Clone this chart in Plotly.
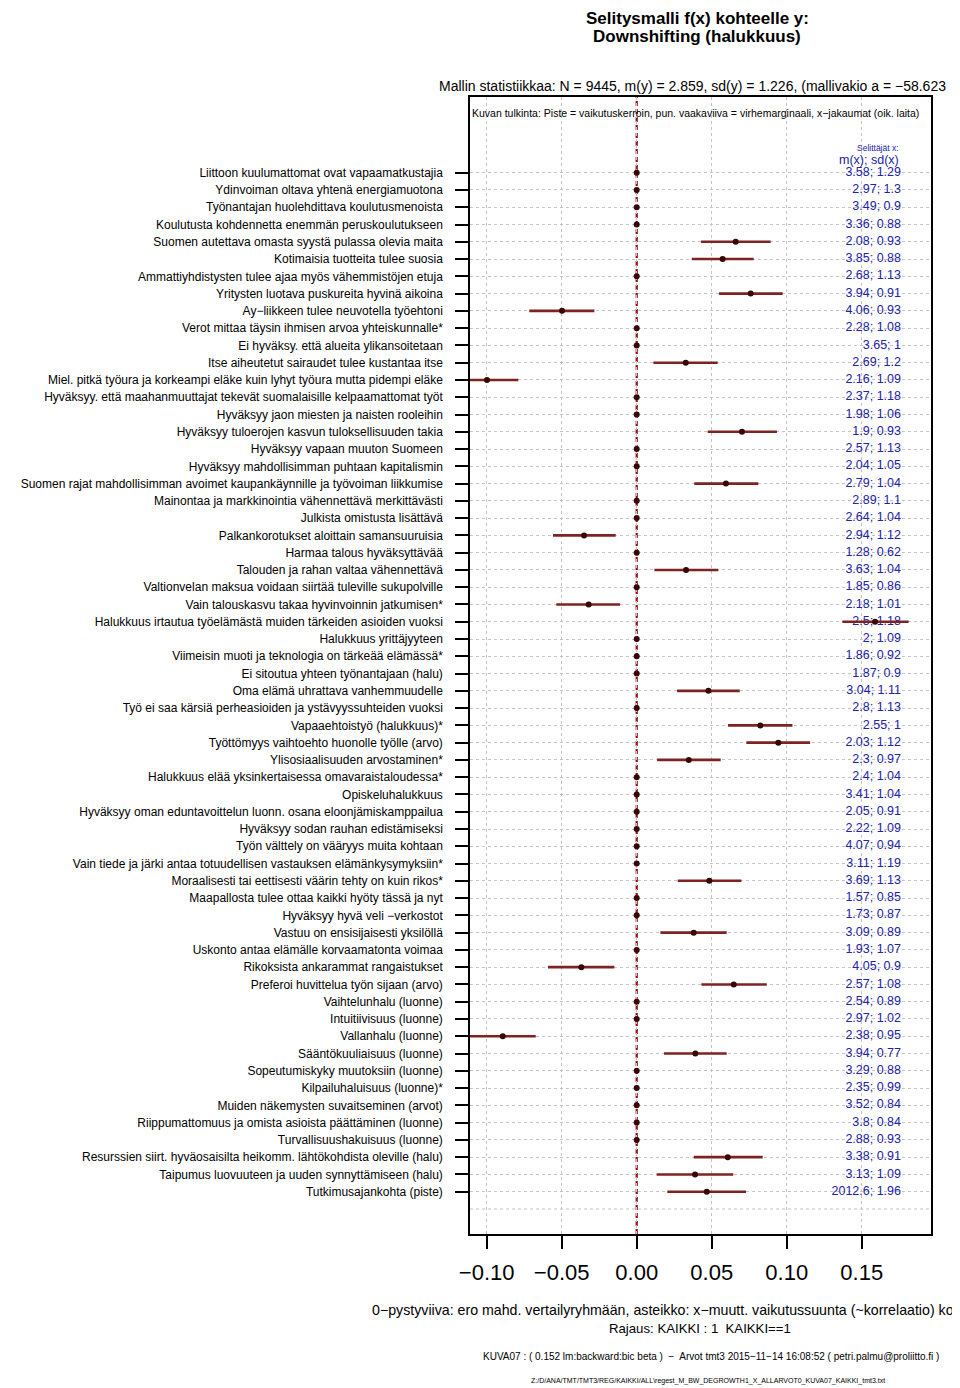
import plotly.graph_objects as go

labels = [
    "Liittoon kuulumattomat ovat vapaamatkustajia",
    "Ydinvoiman oltava yhtenä energiamuotona",
    "Työnantajan huolehdittava koulutusmenoista",
    "Koulutusta kohdennetta enemmän peruskoulutukseen",
    "Suomen autettava omasta syystä pulassa olevia maita",
    "Kotimaisia tuotteita tulee suosia",
    "Ammattiyhdistysten tulee ajaa myös vähemmistöjen etuja",
    "Yritysten luotava puskureita hyvinä aikoina",
    "Ay−liikkeen tulee neuvotella työehtoni",
    "Verot mittaa täysin ihmisen arvoa yhteiskunnalle*",
    "Ei hyväksy. että alueita ylikansoitetaan",
    "Itse aiheutetut sairaudet tulee kustantaa itse",
    "Miel. pitkä työura ja korkeampi eläke kuin lyhyt työura mutta pidempi eläke",
    "Hyväksyy. että maahanmuuttajat tekevät suomalaisille kelpaamattomat työt",
    "Hyväksyy jaon miesten ja naisten rooleihin",
    "Hyväksyy tuloerojen kasvun tuloksellisuuden takia",
    "Hyväksyy vapaan muuton Suomeen",
    "Hyväksyy mahdollisimman puhtaan kapitalismin",
    "Suomen rajat mahdollisimman avoimet kaupankäynnille ja työvoiman liikkumise",
    "Mainontaa ja markkinointia vähennettävä merkittävästi",
    "Julkista omistusta lisättävä",
    "Palkankorotukset aloittain samansuuruisia",
    "Harmaa talous hyväksyttävää",
    "Talouden ja rahan valtaa vähennettävä",
    "Valtionvelan maksua voidaan siirtää tuleville sukupolville",
    "Vain talouskasvu takaa hyvinvoinnin jatkumisen*",
    "Halukkuus irtautua työelämästä muiden tärkeiden asioiden vuoksi",
    "Halukkuus yrittäjyyteen",
    "Viimeisin muoti ja teknologia on tärkeää elämässä*",
    "Ei sitoutua yhteen työnantajaan (halu)",
    "Oma elämä uhrattava vanhemmuudelle",
    "Työ ei saa kärsiä perheasioiden ja ystävyyssuhteiden vuoksi",
    "Vapaaehtoistyö (halukkuus)*",
    "Työttömyys vaihtoehto huonolle työlle (arvo)",
    "Ylisosiaalisuuden arvostaminen*",
    "Halukkuus elää yksinkertaisessa omavaraistaloudessa*",
    "Opiskeluhalukkuus",
    "Hyväksyy oman eduntavoittelun luonn. osana eloonjämiskamppailua",
    "Hyväksyy sodan rauhan edistämiseksi",
    "Työn välttely on vääryys muita kohtaan",
    "Vain tiede ja järki antaa totuudellisen vastauksen elämänkysymyksiin*",
    "Moraalisesti tai eettisesti väärin tehty on kuin rikos*",
    "Maapallosta tulee ottaa kaikki hyöty tässä ja nyt",
    "Hyväksyy hyvä veli −verkostot",
    "Vastuu on ensisijaisesti yksilöllä",
    "Uskonto antaa elämälle korvaamatonta voimaa",
    "Rikoksista ankarammat rangaistukset",
    "Preferoi huvittelua työn sijaan (arvo)",
    "Vaihtelunhalu (luonne)",
    "Intuitiivisuus (luonne)",
    "Vallanhalu (luonne)",
    "Sääntökuuliaisuus (luonne)",
    "Sopeutumiskyky muutoksiin (luonne)",
    "Kilpailuhaluisuus (luonne)*",
    "Muiden näkemysten suvaitseminen (arvot)",
    "Riippumattomuus ja omista asioista päättäminen (luonne)",
    "Turvallisuushakuisuus (luonne)",
    "Resurssien siirt. hyväosaisilta heikomm. lähtökohdista oleville (halu)",
    "Taipumus luovuuteen ja uuden synnyttämiseen (halu)",
    "Tutkimusajankohta (piste)",
]

mx_sd = [
    "3.58; 1.29", "2.97; 1.3", "3.49; 0.9", "3.36; 0.88", "2.08; 0.93", "3.85; 0.88",
    "2.68; 1.13", "3.94; 0.91", "4.06; 0.93", "2.28; 1.08", "3.65; 1", "2.69; 1.2",
    "2.16; 1.09", "2.37; 1.18", "1.98; 1.06", "1.9; 0.93", "2.57; 1.13", "2.04; 1.05",
    "2.79; 1.04", "2.89; 1.1", "2.64; 1.04", "2.94; 1.12", "1.28; 0.62", "3.63; 1.04",
    "1.85; 0.86", "2.18; 1.01", "2.5; 1.18", "2; 1.09", "1.86; 0.92", "1.87; 0.9",
    "3.04; 1.11", "2.8; 1.13", "2.55; 1", "2.03; 1.12", "2.3; 0.97", "2.4; 1.04",
    "3.41; 1.04", "2.05; 0.91", "2.22; 1.09", "4.07; 0.94", "3.11; 1.19", "3.69; 1.13",
    "1.57; 0.85", "1.73; 0.87", "3.09; 0.89", "1.93; 1.07", "4.05; 0.9", "2.57; 1.08",
    "2.54; 0.89", "2.97; 1.02", "2.38; 0.95", "3.94; 0.77", "3.29; 0.88", "2.35; 0.99",
    "3.52; 0.84", "3.8; 0.84", "2.88; 0.93", "3.38; 0.91", "3.13; 1.09", "2012.6; 1.96",
]

coef = [
    0, 0, 0, 0, 0.066, 0.0573, 0, 0.076, -0.0498, 0, 0, 0.0327,
    -0.0998, 0, 0, 0.0702, 0, 0, 0.0595, 0, 0, -0.0351, 0, 0.0329,
    0, -0.032, 0.1589, 0, 0, 0, 0.0478, 0, 0.0824, 0.0944, 0.0347, 0,
    0, 0, 0, 0, 0, 0.0484, 0, 0, 0.038, 0, -0.0369, 0.0647,
    0, 0, -0.0893, 0.0391, 0, 0, 0, 0, 0, 0.0607, 0.0389, 0.0467,
]

ci_low = [
    None, None, None, None, 0.0429, 0.0367, None, 0.0549, -0.0716, None, None, 0.0111,
    -0.1207, None, None, 0.0473, None, None, 0.0384, None, None, -0.0558, None, 0.0118,
    None, -0.0536, 0.1371, None, None, None, 0.0269, None, 0.0609, 0.0731, 0.0136, None,
    None, None, None, None, None, 0.0273, None, None, 0.0158, None, -0.0591, 0.0431,
    None, None, -0.1113, 0.0182, None, None, None, None, None, 0.038, 0.0133, 0.0204,
]

ci_high = [
    None, None, None, None, 0.0893, 0.078, None, 0.0973, -0.0282, None, None, 0.054,
    -0.0789, None, None, 0.0935, None, None, 0.0811, None, None, -0.014, None, 0.0544,
    None, -0.0111, 0.1813, None, None, None, 0.0687, None, 0.1038, 0.1156, 0.056, None,
    None, None, None, None, None, 0.0698, None, None, 0.06, None, -0.0149, 0.0867,
    None, None, -0.0673, 0.06, None, None, None, None, None, 0.084, 0.0644, 0.0729,
]

x_ticks = [-0.10, -0.05, 0.00, 0.05, 0.10, 0.15]
x_ticktext = ["−0.10", "−0.05", "0.00", "0.05", "0.10", "0.15"]

title_lines = ["Selitysmalli f(x) kohteelle y:", "Downshifting (halukkuus)"]

FONT = "Liberation Sans, Arial, Helvetica, sans-serif"

# the page body adds an 8 px offset; build the figure 8 px smaller and shifted
OFF = 8
W, H = 960 - OFF, 1388 - OFF
BOX_L, BOX_R, BOX_T, BOX_B = 470, 931, 97, 1234  # reference page pixels
L, T = BOX_L - OFF, BOX_T - OFF
PW, PH = BOX_R - BOX_L, BOX_B - BOX_T
R, B = W - L - PW, H - T - PH


def px2paper(px):
    return (px - BOX_L) / PW


def py2paper(py):
    return (BOX_B - py) / PH


rows = list(range(1, len(labels) + 1))

ex, ey = [], []
for r, lo, hi in zip(rows, ci_low, ci_high):
    if lo is None:
        continue
    ex += [lo, hi, None]
    ey += [r, r, None]

fig = go.Figure()

fig.add_trace(go.Scatter(
    x=[0.1762] * len(rows), y=rows, mode="text", text=mx_sd,
    textposition="middle left", cliponaxis=False,
    textfont=dict(family=FONT, size=12.5, color="#2222AA"),
    hoverinfo="skip", showlegend=False,
))

fig.add_trace(go.Scatter(
    x=ex, y=ey, mode="lines", line=dict(color="#7E2222", width=2.6),
    hoverinfo="skip", showlegend=False,
))

fig.add_trace(go.Scatter(
    x=coef, y=rows, mode="markers",
    marker=dict(color="#360606", size=6),
    showlegend=False,
))

shapes = [
    dict(type="line", xref="paper", x0=0, x1=1, yref="y",
         y0=len(rows) + 1, y1=len(rows) + 1,
         line=dict(color="#c4c4c4", width=1, dash="dot"), layer="below"),
    dict(type="line", xref="x", x0=0, x1=0, yref="paper", y0=0, y1=1,
         line=dict(color="#8B1010", width=2.2, dash="5px,3px"), layer="below"),
]

top_val = 1 - (172.7 - BOX_T) / 17.271
bot_val = len(rows) + (BOX_B - 1191.7) / 17.271

annotations = [
    dict(text="<b>" + title_lines[0] + "</b>",
         x=px2paper(697), y=py2paper(18), xref="paper", yref="paper",
         xanchor="center", yanchor="middle", showarrow=False,
         font=dict(family=FONT, size=17, color="black")),
    dict(text="<b>" + title_lines[1] + "</b>",
         x=px2paper(697), y=py2paper(37), xref="paper", yref="paper",
         xanchor="center", yanchor="middle", showarrow=False,
         font=dict(family=FONT, size=17, color="black")),
    dict(text="Mallin statistiikkaa: N = 9445, m(y) = 2.859, sd(y) = 1.226, (mallivakio a = −58.623",
         x=px2paper(437), y=py2paper(86), xref="paper", yref="paper",
         xanchor="left", yanchor="middle", showarrow=False,
         font=dict(family=FONT, size=14, color="black")),
    dict(text="Kuvan tulkinta: Piste = vaikutuskerroin, pun. vaakaviiva = virhemarginaali, x−jakaumat (oik. laita)",
         x=px2paper(695), y=py2paper(113), xref="paper", yref="paper",
         xanchor="center", yanchor="middle", showarrow=False,
         font=dict(family=FONT, size=10.5, color="black")),
    dict(text="Selittäjät x:", x=0.1762, y=py2paper(147.5), xref="x", yref="paper",
         xanchor="right", yanchor="middle", showarrow=False,
         font=dict(family=FONT, size=8.5, color="#2222AA")),
    dict(text="m(x); sd(x)", x=0.1762, y=py2paper(160.5), xref="x", yref="paper",
         xanchor="right", yanchor="middle", showarrow=False,
         font=dict(family=FONT, size=12.5, color="#2222AA")),
    dict(text="0−pystyviiva: ero mahd. vertailyryhmään, asteikko: x−muutt. vaikutussuunta (~korrelaatio) ko",
         x=px2paper(370), y=py2paper(1310), xref="paper", yref="paper",
         xanchor="left", yanchor="middle", showarrow=False,
         font=dict(family=FONT, size=14.2, color="black")),
    dict(text="Rajaus: KAIKKI : 1  KAIKKI==1",
         x=px2paper(700), y=py2paper(1328), xref="paper", yref="paper",
         xanchor="center", yanchor="middle", showarrow=False,
         font=dict(family=FONT, size=13.2, color="black")),
    dict(text="KUVA07 : ( 0.152 lm:backward:bic beta )  −  Arvot tmt3 2015−11−14 16:08:52 ( petri.palmu@proliitto.fi )",
         x=px2paper(711), y=py2paper(1356), xref="paper", yref="paper",
         xanchor="center", yanchor="middle", showarrow=False,
         font=dict(family=FONT, size=10, color="black")),
    dict(text="Z:/D/ANA/TMT/TMT3/REG/KAIKKI/ALL\\regest_M_BW_DEGROWTH1_X_ALLARVOT0_KUVA07_KAIKKI_tmt3.txt",
         x=px2paper(708), y=py2paper(1381), xref="paper", yref="paper",
         xanchor="center", yanchor="middle", showarrow=False,
         font=dict(family=FONT, size=7, color="black")),
]

fig.update_layout(
    width=W, height=H, autosize=False,
    margin=dict(l=L, r=R, t=T, b=B, pad=0),
    paper_bgcolor="white", plot_bgcolor="white",
    font=dict(family=FONT, color="black"),
    showlegend=False,
    shapes=shapes,
    annotations=annotations,
    xaxis=dict(
        range=[(BOX_L - 636.7) / 1500, (BOX_R - 636.7) / 1500],
        tickvals=x_ticks, ticktext=x_ticktext,
        tickfont=dict(family=FONT, size=22, color="black"),
        ticks="outside", ticklen=13, tickwidth=1.5, tickcolor="black",
        ticklabelstandoff=5,
        showgrid=True, gridcolor="#c4c4c4", gridwidth=1, griddash="dot",
        zeroline=False,
        showline=True, linecolor="black", linewidth=1.5, mirror=True,
        automargin=False, fixedrange=True,
    ),
    yaxis=dict(
        range=[bot_val, top_val],
        tickvals=rows, ticktext=labels,
        tickfont=dict(family=FONT, size=12, color="black"),
        ticks="outside", ticklen=13, tickwidth=1.5, tickcolor="black",
        ticklabelstandoff=10,
        showgrid=True, gridcolor="#c4c4c4", gridwidth=1, griddash="dot",
        zeroline=False,
        showline=True, linecolor="black", linewidth=1.5, mirror=True,
        automargin=False, fixedrange=True,
    ),
)

fig.write_html("out.html")
